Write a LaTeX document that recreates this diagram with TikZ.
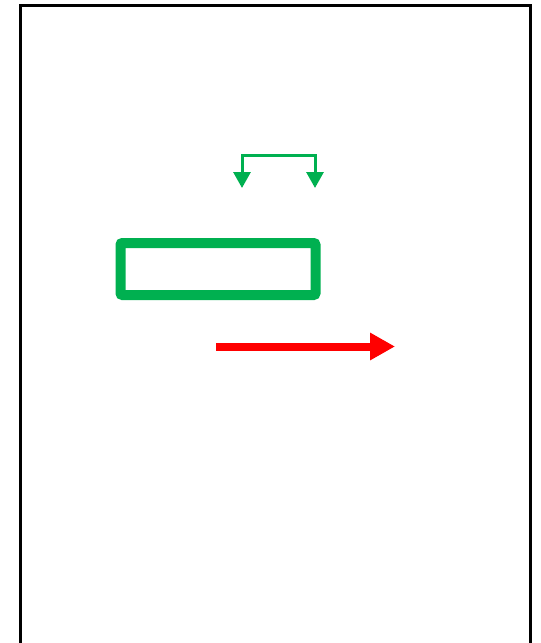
\documentclass[tikz,border=0pt]{standalone}
\usetikzlibrary{arrows.meta}
\definecolor{grn}{HTML}{00B050}
\definecolor{rd}{HTML}{FF0000}
\begin{document}
\begin{tikzpicture}[x=1pt,y=-1pt,
  frame/.style={draw=black,line width=3pt},
  grnbox/.style={draw=grn,line width=10pt,rounded corners=2pt,minimum width=195pt,minimum height=52pt,inner sep=0pt,outer sep=0pt,anchor=north west},
  grnarrow/.style={draw=grn,line width=3pt,{Triangle[length=16pt,width=17pt]}-{Triangle[length=16pt,width=17pt]}},
  redarrow/.style={draw=rd,line width=8pt,-{Triangle[length=25pt,width=26pt]}}]
\useasboundingbox (0,0) rectangle (541,643);
\begin{scope}
\clip (0,0) rectangle (541,643);
\draw[frame] (20,5) rectangle (530,660);
\end{scope}
\node[grnbox] (box) at (120.5,243) {};
\coordinate (gl) at (242,188);
\coordinate (gr) at (315,188);
\coordinate (gtl) at (242,155);
\coordinate (gtr) at (315,155);
\draw[grnarrow] (gl) -- (gtl) -- (gtr) -- (gr);
\coordinate (rs) at (216,346.5);
\coordinate (re) at (395,346.5);
\draw[redarrow] (rs) -- (re);
\end{tikzpicture}
\end{document}
